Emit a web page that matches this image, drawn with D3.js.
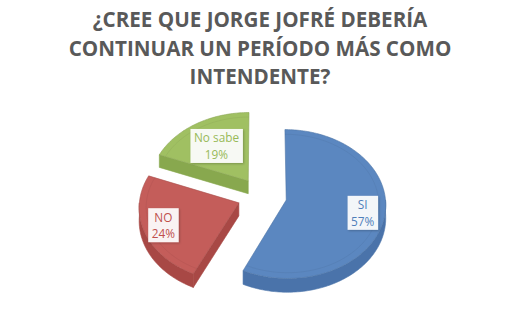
<!DOCTYPE html>
<html>
<head>
<meta charset="utf-8">
<script src="https://cdn.jsdelivr.net/npm/d3@7"></script>
<style>
  html, body { margin: 0; padding: 0; background: #fff; }
  svg { display: block; }
</style>
</head>
<body>
<div id="chart"></div>
<script>
// ---- data ----
const titleLines = ["¿CREE QUE JORGE JOFRÉ DEBERÍA", "CONTINUAR UN PERÍODO MÁS COMO", "INTENDENTE?"];
const categories = ["SI", "NO", "No sabe"];
const values = [57, 24, 19];
const percentLabels = ["57%", "24%", "19%"];
const topColors = ["#5b87c0", "#c45d5a", "#a0c062"];
const sideColors = ["#4a73aa", "#a84845", "#88a84e"];
const textColors = ["#4f7fba", "#c0504d", "#98b958"];
const labelRadius = [0.78, 0.8, 0.6];

// ---- layout ----
const W = 520, H = 324;
const cx = 262, cy = 196, rx = 99, ry = 74, persp = 0.054, depth = 13, explode = 0.25;

const svg = d3.select("#chart").append("svg").attr("width", W).attr("height", H);

const defs = svg.append("defs");
const f = defs.append("filter").attr("id", "shadow").attr("x", "-20%").attr("y", "-20%").attr("width", "150%").attr("height", "150%");
f.append("feDropShadow").attr("dx", 1).attr("dy", 1).attr("stdDeviation", 1).attr("flood-color", "#000").attr("flood-opacity", 0.25);

// title
const title = svg.append("g");
const titleSize = 20;
const tl = title.selectAll("text").data(titleLines).join("text")
  .attr("x", W / 2)
  .attr("y", (d, i) => 27 + i * 28.5)
  .attr("text-anchor", "middle")
  .attr("font-family", "'Open Sans', sans-serif")
  .attr("font-weight", "bold")
  .attr("font-size", titleSize)
  .attr("fill", "#595959")
  .text(d => d);
// fit first line to target width
const w0 = tl.node().getComputedTextLength();
const fs = titleSize * 335 / w0;
tl.attr("font-size", fs);

// projection of disc coordinates (X right, V toward viewer) with height h
function proj(X, V, h) {
  const s = 1 + persp * V;
  return [cx + X * rx * s, cy + V * ry * s + (h || 0) * s];
}

const pie = d3.pie().sort(null).startAngle(0).endAngle(2 * Math.PI);
const arcs = pie(values).map((a, i) => {
  const m = (a.startAngle + a.endAngle) / 2;
  return { ...a, i, mid: m, ox: explode * Math.sin(m), ov: -explode * Math.cos(m) };
});

function rimPt(a, ang, h) {
  return proj(a.ox + Math.sin(ang), a.ov - Math.cos(ang), h);
}
function arcPts(a, a0, a1, h) {
  const n = Math.max(2, Math.ceil((a1 - a0) / 0.02));
  return d3.range(n + 1).map(k => rimPt(a, a0 + (a1 - a0) * k / n, h));
}
const line = d3.line();

// draw back slices first
const order = arcs.slice().sort((a, b) => a.ov - b.ov);

const g = svg.append("g");
order.forEach(a => {
  const sg = g.append("g");
  const apexT = proj(a.ox, a.ov, 0), apexB = proj(a.ox, a.ov, depth);
  // radial faces
  const faces = [];
  if (Math.sin(a.startAngle) < -1e-6) faces.push(a.startAngle);
  if (Math.sin(a.endAngle) > 1e-6) faces.push(a.endAngle);
  faces.forEach(ang => {
    const pts = [apexT, rimPt(a, ang, 0), rimPt(a, ang, depth), apexB];
    sg.append("path").attr("d", line(pts) + "Z")
      .attr("fill", sideColors[a.i]).attr("stroke", sideColors[a.i]).attr("stroke-width", 0.6);
  });
  // rim side (front half)
  const b0 = Math.max(a.startAngle, Math.PI / 2), b1 = Math.min(a.endAngle, 3 * Math.PI / 2);
  if (b1 > b0) {
    const top = arcPts(a, b0, b1, 0), bot = arcPts(a, b0, b1, depth).reverse();
    sg.append("path").attr("d", line(top.concat(bot)) + "Z")
      .attr("fill", sideColors[a.i]).attr("stroke", sideColors[a.i]).attr("stroke-width", 0.6);
  }
  // top face
  const pts = [apexT].concat(arcPts(a, a.startAngle, a.endAngle, 0));
  sg.append("path").attr("d", line(pts) + "Z")
    .attr("fill", topColors[a.i])
    .attr("stroke", d3.color(topColors[a.i]).darker(0.4)).attr("stroke-width", 0.6);
  // faint bevel line inside rim
  const inner = d3.range(0, 61).map(k => {
    const ang = a.startAngle + (a.endAngle - a.startAngle) * k / 60;
    return proj(a.ox + 0.93 * Math.sin(ang), a.ov - 0.93 * Math.cos(ang), 0);
  });
  sg.append("path").attr("d", line(inner)).attr("fill", "none")
    .attr("stroke", d3.color(topColors[a.i]).darker(0.5)).attr("stroke-opacity", 0.35).attr("stroke-width", 0.8);
});

// labels
const lg = svg.append("g");
arcs.forEach(a => {
  const r = labelRadius[a.i];
  const [lx, ly] = proj(a.ox + r * Math.sin(a.mid), a.ov - r * Math.cos(a.mid), 0);
  const grp = lg.append("g").attr("transform", `translate(${lx},${ly})`);
  const rect = grp.append("rect").attr("fill", "#ffffff").attr("fill-opacity", 0.92).attr("filter", "url(#shadow)");
  const t = grp.append("text")
    .attr("text-anchor", "middle")
    .attr("font-family", "'Open Sans', sans-serif")
    .attr("font-size", 11.8)
    .attr("fill", textColors[a.i]);
  t.append("tspan").attr("x", 0).attr("y", -3.5).text(categories[a.i]);
  t.append("tspan").attr("x", 0).attr("y", 13).text(percentLabels[a.i]);
  const bb = t.node().getBBox();
  rect.attr("x", bb.x - 3.5).attr("y", -17).attr("width", bb.width + 7).attr("height", 34);
});
</script>
</body>
</html>
